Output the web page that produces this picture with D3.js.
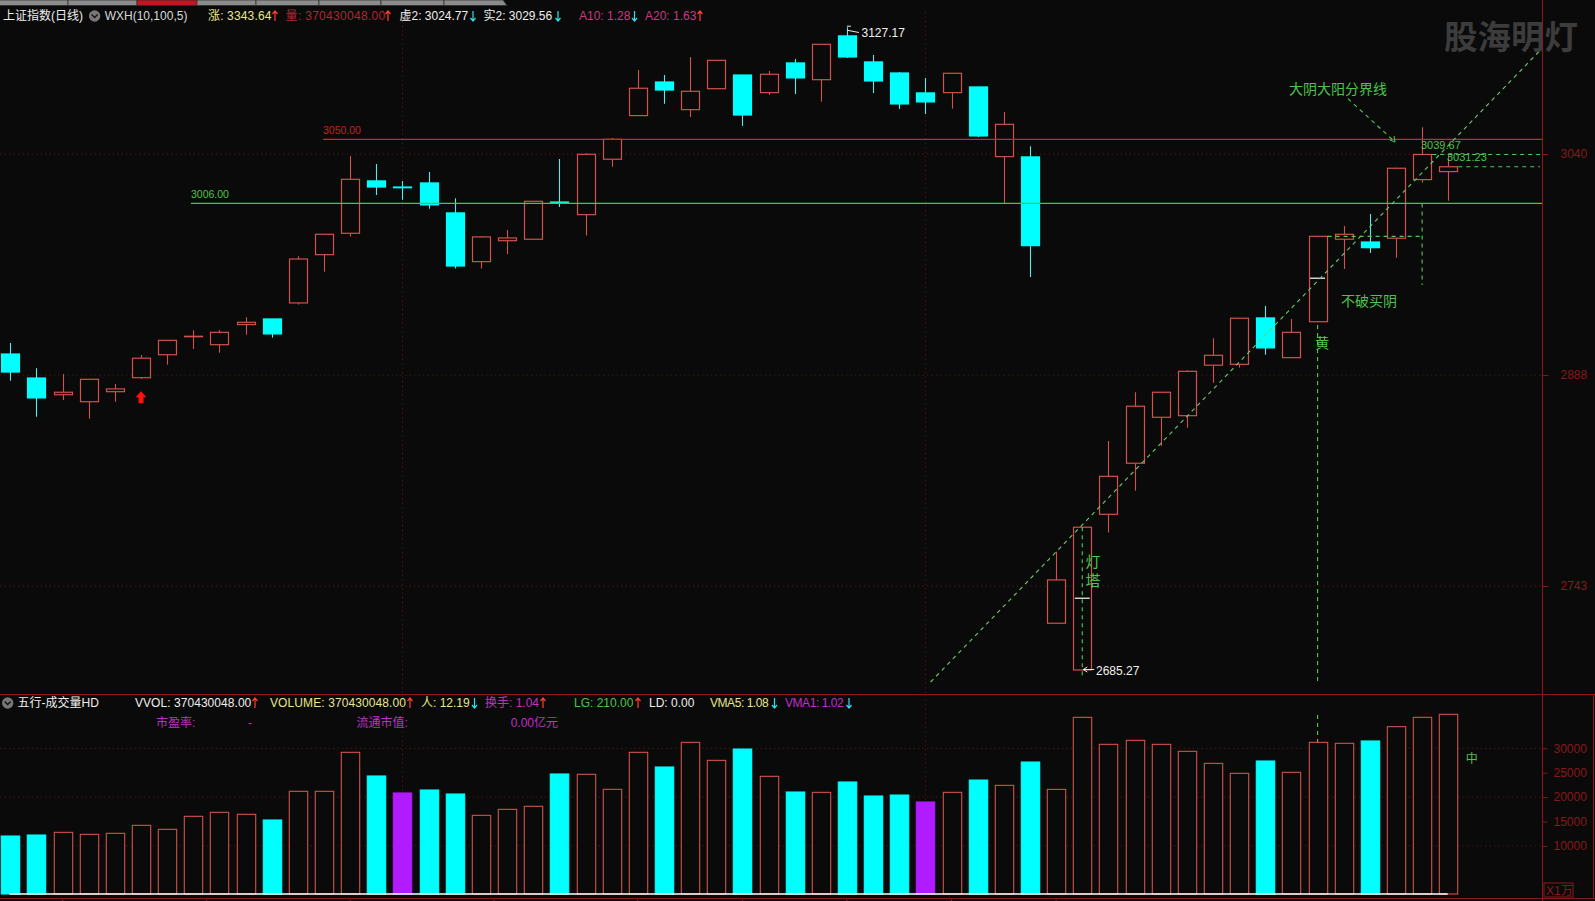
<!DOCTYPE html>
<html><head><meta charset="utf-8">
<script src="https://cdn.jsdelivr.net/npm/d3@7/dist/d3.min.js"></script>
<style>
html,body{margin:0;padding:0;background:#0a0a0a;overflow:hidden}
svg{display:block}
text{font-family:"Liberation Sans","Noto Sans CJK SC",sans-serif}
</style></head><body><svg id="c" width="1595" height="901"></svg>
<script>
const opens=[2902.5,2886.0,2874.5,2869.7,2876.6,2886.2,2902.0,2914.4,2908.9,2922.7,2926.6,2937.6,2970.8,2985.5,3021.5,3017.3,3020.1,2999.5,2966.0,2980.4,2981.4,3007.0,2998.3,3036.4,3066.4,3089.5,3070.5,3084.9,3094.3,3082.2,3102.6,3091.1,3121.2,3103.3,3095.7,3082.0,3082.2,3086.1,3038.2,3038.0,2717.4,2685.27,2792.3,2827.4,2859.0,2860.1,2894.8,2895.4,2927.3,2900.0,2924.7,2981.4,2979.5,2982.1,3022.4,3027.9];
const closes=[2890.1,2872.3,2876.2,2885.1,2878.5,2899.6,2911.9,2914.7,2917.4,2924.3,2916.3,2967.8,2984.8,3022.6,3017.3,3016.8,3005.0,2963.0,2983.0,2982.3,3007.5,3006.1,3039.8,3050.1,3085.2,3084.0,3083.1,3104.4,3066.8,3094.8,3092.3,3115.4,3106.7,3090.2,3074.4,3075.8,3095.5,3052.4,3060.4,2977.0,2747.2,2783.4,2818.4,2866.6,2876.2,2890.6,2901.6,2927.1,2906.7,2917.4,2983.4,2984.8,2975.6,3030.2,3039.67,3031.23];
const highs=[2910.1,2892.7,2888.8,2885.1,2881.9,2901.8,2911.9,2918.8,2919.0,2927.8,2926.6,2969.7,2984.8,3038.6,3033.1,3021.5,3027.6,3009.6,2983.7,2987.8,3007.5,3036.6,3040.5,3051.0,3097.8,3094.3,3106.7,3104.4,3094.3,3097.1,3105.3,3115.4,3127.17,3108.1,3096.4,3092.3,3095.5,3086.1,3068.9,3045.3,2766.6,2783.4,2842.7,2876.2,2876.2,2891.3,2913.3,2927.1,2935.5,2926.6,2983.4,2990.5,2998.8,3030.6,3058.4,3039.8];
const lows=[2884.1,2859.4,2870.9,2858.0,2869.7,2885.3,2895.2,2906.0,2903.4,2915.8,2913.7,2936.5,2959.1,2983.2,3011.8,3008.6,3002.4,2961.2,2961.2,2971.3,2981.4,3003.6,2983.9,3031.3,3066.4,3074.6,3065.5,3084.9,3059.3,3080.6,3081.3,3076.0,3106.0,3082.0,3071.0,3067.5,3071.2,3051.7,3006.3,2955.5,2717.4,2685.27,2779.8,2808.5,2839.3,2851.8,2882.8,2893.1,2902.0,2900.0,2924.7,2961.0,2972.0,2968.7,3020.3,3007.9];
const volumes=[12040,12245,12790,12380,12590,14225,13405,16070,16890,16480,15320,21190,21190,29175,24330,20850,21460,20640,16270,17500,18120,24740,24670,21600,29175,26170,31220,27530,29850,24260,21050,20980,23100,20230,20430,19000,20980,23500,22410,27190,21590,36340,30810,31630,30810,29380,26920,24870,27400,25080,31220,31020,31500,34430,36340,36960];
const purpleVolumeDays=[15,35];
const priceTicks=[3040,2888,2743];
const volumeTicks=[30000,25000,20000,15000,10000];
const volumeGrid=[30000,20000,10000];
const dateTicks=[2,7.5,13,18.5,24,28,32,36,40];
const dateGridDays=[15,35];
const avgMarks=[[41,2734.6],[50,2954.6]];
const resistance=3050, support=3006;

const RED="#d0524c",CYAN="#00ffff",GREEN="#4cc44c",DASH="#55c855",PURPLE="#b01cff",AXIS="#8a1818",GRID="#4a1414",BG="#0a0a0a";
const svg=d3.select("#c");
svg.append("rect").attr("width",1595).attr("height",901).attr("fill",BG);

const x=d3.scaleLinear().domain([0,55]).range([10.3,1448.3]);
const y=d3.scaleLinear().domain([3040,2743]).range([154,586]);
const v=d3.scaleLinear().domain([0,30000]).range([894.8,748.3]);
const BW=18;

// tabs (their captions are clipped away in the reference)
const tabEdges=[-2,68,137,197,256,319,381,444,503];
const tabs=svg.append("g");
d3.pairs(tabEdges).forEach(([a,b],i)=>{
  tabs.append("path").attr("d",`M${a},0H${b}${i==2||i==7?"L"+(b+4)+",5.5":"V5.5"}H${a}Z`).attr("fill",i==2?"#c01822":"#8c8c8c").attr("stroke","#2a2a2a").attr("stroke-width",.7);
});

// grids
const gridG=svg.append("g").attr("stroke",GRID).attr("stroke-dasharray","1.5,3").attr("fill","none");
priceTicks.forEach(t=>gridG.append("line").attr("x1",0).attr("x2",1541).attr("y1",y(t)).attr("y2",y(t)));
volumeGrid.forEach(t=>gridG.append("line").attr("x1",0).attr("x2",1541).attr("y1",v(t)).attr("y2",v(t)));
dateGridDays.forEach(d=>{
  gridG.append("line").attr("x1",x(d)).attr("x2",x(d)).attr("y1",12).attr("y2",694);
  gridG.append("line").attr("x1",x(d)).attr("x2",x(d)).attr("y1",695).attr("y2",894);
});

// candles
const idx=d3.range(opens.length);
const isUp=i=>closes[i]>=opens[i];
const cg=svg.append("g");
cg.selectAll("path.w").data(idx).join("path").attr("class","w").attr("fill","none")
  .attr("stroke",i=>isUp(i)?RED:"#60e8e8").attr("stroke-width",1.1)
  .attr("d",i=>{
    const t=Math.max(opens[i],closes[i]),b=Math.min(opens[i],closes[i]),c=Math.round(x(i))+.5;
    return `M${c},${y(highs[i])}V${y(t)}M${c},${y(b)}V${y(lows[i])}`;
  });
cg.selectAll("rect").data(idx).join("rect")
  .attr("x",i=>Math.round(x(i))+.5-BW/2).attr("width",BW)
  .attr("y",i=>y(Math.max(opens[i],closes[i])))
  .attr("height",i=>Math.max(.5,Math.abs(y(opens[i])-y(closes[i]))))
  .attr("fill",i=>isUp(i)?BG:CYAN)
  .attr("stroke",i=>isUp(i)?RED:CYAN).attr("stroke-width",1.2);

// level lines pass over the candle bodies
svg.append("line").attr("x1",323).attr("x2",1542).attr("y1",y(resistance)).attr("y2",y(resistance)).attr("stroke","#cc2a2a").attr("stroke-width",1.3);
svg.append("line").attr("x1",191).attr("x2",1542).attr("y1",y(support)).attr("y2",y(support)).attr("stroke","#3fcc3f").attr("stroke-width",1.3);
svg.append("text").attr("x",323).attr("y",134).attr("font-size",10.5).attr("fill","#c42020").text("3050.00");
svg.append("text").attr("x",191).attr("y",198).attr("font-size",10.5).attr("fill",GREEN).text("3006.00");

// white average marks
svg.append("g").selectAll("line").data(avgMarks).join("line")
  .attr("x1",d=>x(d[0])-7.5).attr("x2",d=>x(d[0])+7.5).attr("y1",d=>y(d[1])).attr("y2",d=>y(d[1]))
  .attr("stroke","#fff").attr("stroke-width",1.2);

// dashed annotations
const dash=(a,b,c,d,col)=>svg.append("line").attr("x1",a).attr("y1",b).attr("x2",c).attr("y2",d)
  .attr("stroke",col||DASH).attr("stroke-width",1.1).attr("stroke-dasharray","4,4");
const trendA=[35.2,2677],trendB=[58.6,3112.9];
dash(x(trendA[0]),y(trendA[1]),x(trendB[0]),y(trendB[1]),"#6acc6a");
dash(1348,98.7,1394,141);
dash(x(41),y(2783.4),x(41),678);
dash(x(50),325,x(50),682);
dash(x(50),715,x(50),742);
dash(x(50)+10,y(2983.4),x(54),y(2983.4));
dash(x(54),y(support),x(54),285);
dash(x(54)+10,y(3039.67),1540,y(3039.67));
dash(x(55)+10,y(3031.23),1540,y(3031.23));
svg.append("path").attr("d","M1390,140L1395,142L1394,136").attr("fill","none").attr("stroke",DASH);

// green labels
const label=(s,a,b,size,col,anchor)=>svg.append("text").attr("x",a).attr("y",b).attr("font-size",size).attr("fill",col||GREEN)
  .attr("text-anchor",anchor||"start").attr("dominant-baseline","central").text(s);
label("大阴大阳分界线",1289,89,14);
label("灯",1093,561,15,GREEN,"middle");
label("塔",1093,580,15,GREEN,"middle");
label("黄",1322.3,343,14,GREEN,"middle");
label("不破买阴",1341,301,14);
label("3039.67",1421,145,11);
label("3031.23",1447,157.3,11);
label("中",1471.7,758.5,12,GREEN,"middle");

// extreme markers
label("3127.17",861.5,32.5,12,"#f0f0f0");
label("2685.27",1096,670.5,12,"#f0f0f0");
svg.append("path").attr("d",`M${x(32)},${y(3127.17)-1}h4M${x(32)},${y(3127.17)+3}L${x(32)+12},32.5`).attr("fill","none").attr("stroke","#e8e8e8");
svg.append("path").attr("d",`M${x(41)+12},669.5H${x(41)+1}l4,-2.5M${x(41)+1},669.5l4,2.5`).attr("fill","none").attr("stroke","#e8e8e8");

// red buy arrow
svg.append("path").attr("transform",`translate(${x(5)},${y(2883)+15})`)
  .attr("d","M0,-6L5.5,0H2.5V6H-2.5V0H-5.5Z").attr("fill","#ff1010");

// watermark
svg.append("text").attr("x",1444).attr("y",37).attr("font-size",33.5).attr("font-weight",700).attr("fill","#3c3c3c").attr("dominant-baseline","central").text("股海明灯");

// volume bars
const vg=svg.append("g");
vg.selectAll("rect").data(idx).join("rect")
  .attr("x",i=>Math.round(x(i))+.5-9.2).attr("width",18.4)
  .attr("y",i=>v(volumes[i])).attr("height",i=>894-v(volumes[i]))
  .attr("fill",i=>purpleVolumeDays.includes(i)?PURPLE:isUp(i)?BG:CYAN)
  .attr("stroke",i=>purpleVolumeDays.includes(i)?PURPLE:isUp(i)?RED:CYAN).attr("stroke-width",1.1);
svg.append("line").attr("x1",9.5).attr("x2",1447.7).attr("y1",894).attr("y2",894).attr("stroke","#fff").attr("stroke-width",1.3);

// frame
const frame=svg.append("g").attr("stroke",AXIS).attr("fill","none");
frame.append("line").attr("x1",1542.5).attr("x2",1542.5).attr("y1",0).attr("y2",901);
frame.append("line").attr("x1",0).attr("x2",1595).attr("y1",694.5).attr("y2",694.5);
frame.append("line").attr("x1",0).attr("x2",1595).attr("y1",898.5).attr("y2",898.5);
frame.append("line").attr("x1",1593.5).attr("x2",1593.5).attr("y1",694.5).attr("y2",898.5);
frame.append("rect").attr("x",1544).attr("y",883).attr("width",29).attr("height",14);
dateTicks.forEach(d=>frame.append("line").attr("x1",x(d)).attr("x2",x(d)).attr("y1",898.5).attr("y2",901));
svg.append("text").attr("x",1546).attr("y",894.5).attr("font-size",12).attr("fill",AXIS).text("X1万");

// axes
const styleAxis=g=>{
  g.select(".domain").remove();
  g.selectAll("line").attr("stroke",AXIS);
  g.selectAll("text").attr("fill",AXIS).attr("font-size",12).attr("font-family",'"Liberation Sans"');
};
svg.append("g").attr("transform","translate(1542.5,0)")
  .call(d3.axisRight(y).tickValues(priceTicks).tickSize(6).tickPadding(12).tickFormat(d3.format("d"))).call(styleAxis);
svg.append("g").attr("transform","translate(1542.5,0)")
  .call(d3.axisRight(v).tickValues(volumeTicks).tickSize(5).tickPadding(6).tickFormat(d3.format("d"))).call(styleAxis);

// header texts
const status=(x0,y0,s,col,ls)=>svg.append("text").attr("x",x0).attr("y",y0).attr("font-size",12).attr("fill",col).attr("letter-spacing",ls||0).attr("dominant-baseline","central").text(s);
const arrow=(xa,ya,up)=>{
  const col=up?"#ff4030":"#30e0f0",s=up?-1:1;
  svg.append("path").attr("d",`M${xa},${ya-5*s}V${ya+5*s}M${xa-2.5},${ya+2*s}L${xa},${ya+5*s}L${xa+2.5},${ya+2*s}`).attr("fill","none").attr("stroke",col).attr("stroke-width",1.2);
};
const icon=(cx,cy)=>{
  svg.append("circle").attr("cx",cx).attr("cy",cy).attr("r",5.7).attr("fill","#777");
  svg.append("path").attr("d",`M${cx-3},${cy-1.5}L${cx},${cy+1.5}L${cx+3},${cy-1.5}`).attr("fill","none").attr("stroke","#111").attr("stroke-width",1.3);
};
const YEL="#e6e68c",DRED="#b42434",WHT="#eeeeee",PINK="#c83a80";
status(3,16,"上证指数(日线)",WHT);icon(94.6,16);status(104.7,16,"WXH(10,100,5)","#d8d8d8");
status(208,16,"涨: 3343.64",YEL,.15);arrow(275,16,true);
status(285.6,16,"量: 370430048.00",DRED,.3);arrow(388,16,true);
status(399.5,16,"虚2: 3024.77",WHT);arrow(473,16,false);
status(483.5,16,"实2: 3029.56",WHT);arrow(558,16,false);
status(579,16,"A10: 1.28",PINK);arrow(634.5,16,false);
status(645,16,"A20: 1.63",PINK);arrow(700,16,true);

const MAG="#c030c8";
icon(7.7,703);status(17.5,703,"五行-成交量HD",WHT);
status(135,703,"VVOL: 370430048.00",WHT,.05);arrow(255,703,true);
status(270,703,"VOLUME: 370430048.00",YEL,.1);arrow(410,703,true);
status(421,703,"人: 12.19",YEL);arrow(474.5,703,false);
status(485,703,"换手: 1.04",MAG);arrow(543,703,true);
status(574,703,"LG: 210.00",GREEN);arrow(638,703,true);
status(649,703,"LD: 0.00",WHT);
status(710,703,"VMA5: 1.08",YEL,-.45);arrow(774.5,703,false);
status(785,703,"VMA1: 1.02",MAG,-.45);arrow(849,703,false);
status(156,722.7,"市盈率:",MAG);status(248,722.7,"-",MAG);
status(356.5,722.7,"流通市值:",MAG);status(510.7,722.7,"0.00亿元",MAG);
</script></body></html>
